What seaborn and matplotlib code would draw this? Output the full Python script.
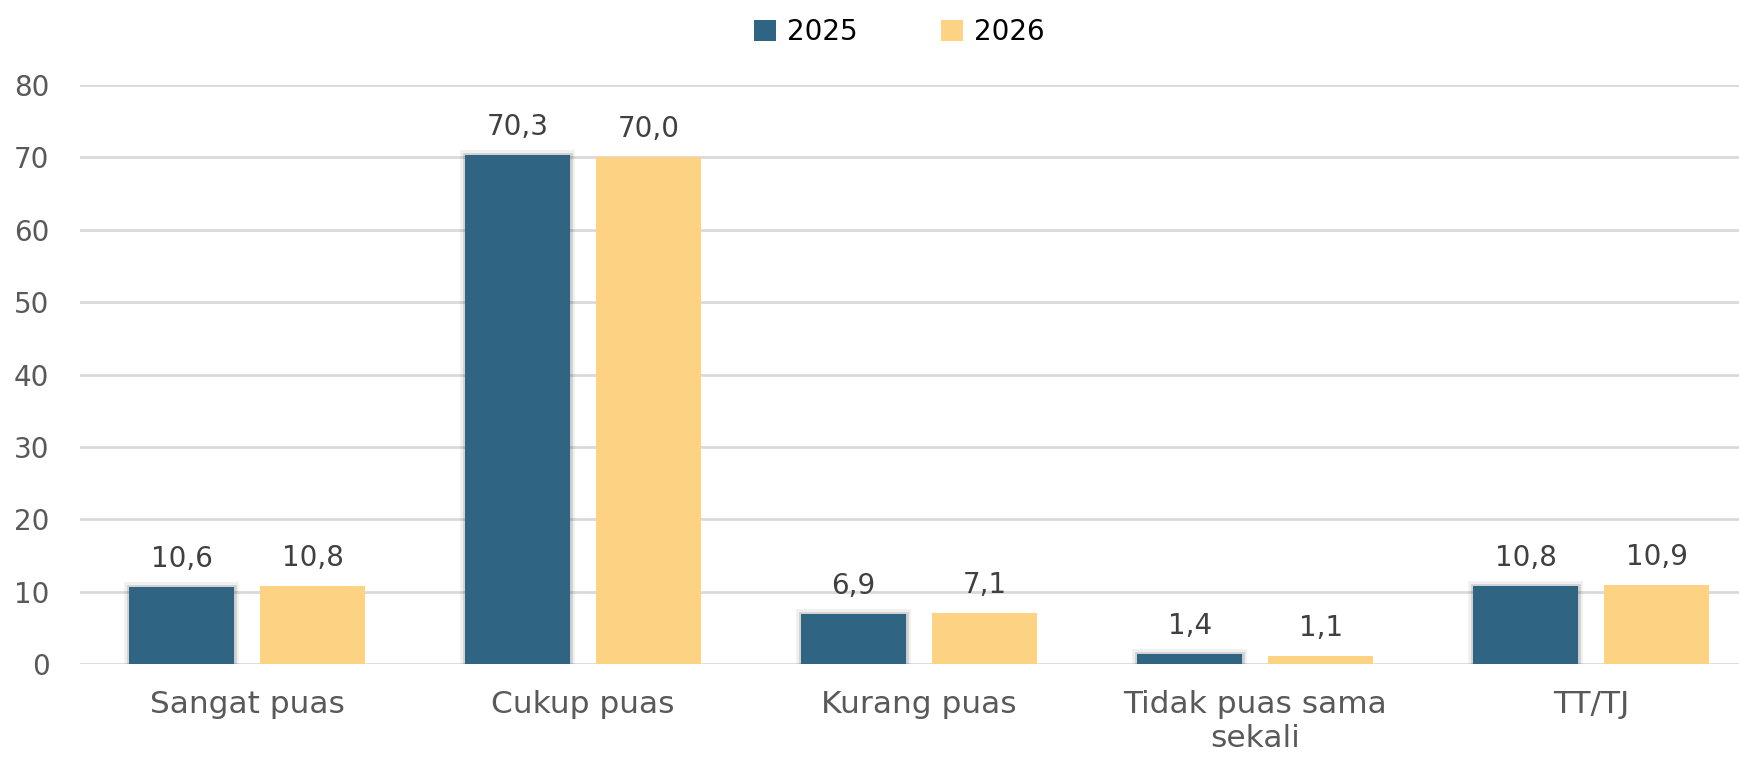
import matplotlib
matplotlib.use("Agg")
import matplotlib.pyplot as plt
import matplotlib.patheffects as pe
import pandas as pd
import seaborn as sns

categories = ["Sangat puas", "Cukup puas", "Kurang puas", "Tidak puas sama\nsekali", "TT/TJ"]
years = ["2025", "2026"]
values_2025 = [10.6, 70.3, 6.9, 1.4, 10.8]
values_2026 = [10.8, 70.0, 7.1, 1.1, 10.9]
colors = ["#2f6583", "#fdd283"]

df = pd.DataFrame({
    "kategori": categories * 2,
    "tahun": [years[0]] * len(categories) + [years[1]] * len(categories),
    "nilai": values_2025 + values_2026,
})

sns.set_style("white")
plt.rcParams["font.family"] = ["DejaVu Sans"]
text_color = "#595959"

fig = plt.figure(figsize=(17.39, 7.59), dpi=100)
ax = fig.add_axes([80 / 1739, 95 / 759, 1 - 80 / 1739, (664 - 85) / 759])

sns.barplot(data=df, x="kategori", y="nilai", hue="tahun", palette=colors,
            width=0.78, gap=0.2, ax=ax, zorder=3, saturation=1,
            linewidth=0, edgecolor="none")

# soft shadow around the dark bars
for bar in ax.containers[0]:
    bar.set_path_effects([pe.Stroke(linewidth=7, foreground="#000000", alpha=0.06),
                          pe.Stroke(linewidth=3.5, foreground="#000000", alpha=0.12),
                          pe.Normal()])

for cont in ax.containers:
    labels = [f"{v:.1f}".replace(".", ",") for v in cont.datavalues]
    ax.bar_label(cont, labels=labels, padding=10, fontsize=20, color="#404040")

ax.set_ylim(0, 80)
ax.set_yticks(range(0, 81, 10))
ax.set_xlim(-0.497, 4.44)
ax.yaxis.grid(True, color="#d9d9d9", linewidth=2, zorder=0)
ax.set_axisbelow(True)
for s in ax.spines.values():
    s.set_visible(False)
ax.tick_params(axis="y", length=0, pad=22, labelsize=20, labelcolor=text_color)
ax.tick_params(axis="x", length=0, pad=19, labelsize=22.5, labelcolor=text_color)
ax.set_xlabel("")
ax.set_ylabel("")

ax.legend(loc="upper center", bbox_to_anchor=(0.5 - 10 / 1659, 1.159),
          ncol=2, frameon=False, fontsize=20, handlelength=0.8, handleheight=0.8,
          handletextpad=0.4, columnspacing=3.0, labelcolor="#000000")

fig.savefig("out.png", dpi=100)
